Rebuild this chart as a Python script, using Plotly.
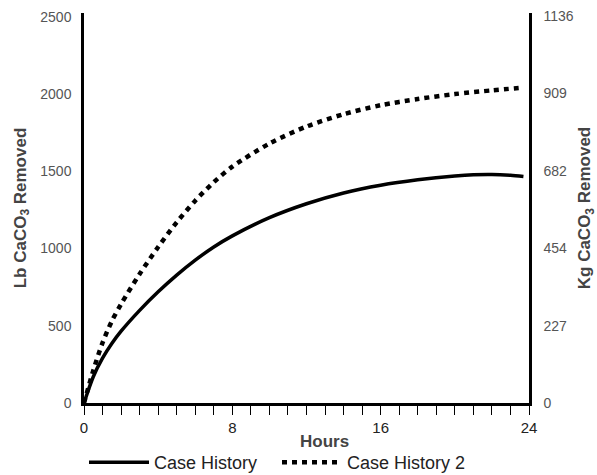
import plotly.graph_objects as go

LB_TO_KG = 0.45359

hours_1 = [0, 0.5, 1, 1.5, 2, 3, 4, 5, 6, 7, 8, 10, 12, 14, 16, 18, 20, 21, 22, 23, 23.7]
case_history_1 = [0, 170, 290, 385, 465, 600, 720, 828, 925, 1010, 1082, 1200, 1290, 1360, 1410,
                  1445, 1470, 1478, 1480, 1474, 1466]

hours_2 = [0, 0.5, 1, 1.5, 2, 3, 4, 5, 6, 7, 8, 10, 12, 14, 16, 18, 20, 22, 23.7]
case_history_2 = [0, 210, 390, 530, 640, 835, 1010, 1170, 1310, 1430, 1530, 1680, 1790, 1870,
                  1928, 1968, 2000, 2024, 2042]

lb_ticks = [0, 500, 1000, 1500, 2000, 2500]
kg_ticks = [0, 227, 454, 682, 909, 1136]
hour_ticks = [0, 8, 16, 24]

lb_max = 2525

fig = go.Figure()
fig.add_trace(go.Scatter(x=hours_1, y=case_history_1, mode="lines", name="Case History",
                         line=dict(color="black", width=3.5, shape="spline", smoothing=0.8)))
fig.add_trace(go.Scatter(x=hours_2, y=case_history_2, mode="lines", name="Case History 2",
                         line=dict(color="black", width=4.5, dash="5px,5px", shape="spline", smoothing=0.8)))
# invisible trace to anchor the kg axis
fig.add_trace(go.Scatter(x=[0], y=[0], yaxis="y2", mode="markers", showlegend=False,
                         marker=dict(opacity=0), hoverinfo="skip"))

FONT = "Liberation Sans, Arial"
tick_font_y = dict(family=FONT, size=14, color="#555555")
title_font = dict(family=FONT, size=17, color="#444444")

fig.update_layout(
    width=597, height=475,
    margin=dict(l=84, r=68, t=13, b=72),
    paper_bgcolor="white", plot_bgcolor="white",
    showlegend=True,
    legend=dict(orientation="h", xref="container", x=84 / 597, xanchor="left",
                yref="container", y=(475 - 444) / 475, yanchor="top",
                font=dict(family=FONT, size=18, color="#222222"),
                itemwidth=60, tracegroupgap=0, entrywidth=118),
    xaxis=dict(range=[0, 24], tickvals=list(range(0, 25)),
               ticktext=[str(h) if h in hour_ticks else "" for h in range(0, 25)],
               ticks="outside", ticklen=9, tickwidth=1, tickcolor="black", automargin=False,
               showline=True, linecolor="black", linewidth=2.5, showgrid=False, zeroline=False,
               tickfont=dict(family=FONT, size=15, color="#222222")),
    yaxis=dict(range=[0, lb_max], tickvals=lb_ticks, showline=True, linecolor="black", linewidth=2.5,
               showgrid=False, zeroline=False, ticks="", ticklabelstandoff=7, automargin=False,
               tickfont=tick_font_y,
               title=dict(text="<b>Lb CaCO<sub>3</sub> Removed</b>", font=title_font, standoff=10)),
    yaxis2=dict(range=[0, lb_max * LB_TO_KG], tickvals=kg_ticks, overlaying="y", side="right",
                anchor="x", showline=True, linecolor="black", linewidth=2.5, showgrid=False,
                zeroline=False, ticks="", ticklabelstandoff=9, tickfont=tick_font_y, automargin=False,
                title=dict(text="<b>Kg CaCO<sub>3</sub> Removed</b>", font=title_font, standoff=10)),
)
fig.add_annotation(text="<b>Hours</b>", x=(324 - 84) / (529 - 84), xref="paper",
                   y=(403 - 441) / 390, yref="paper", showarrow=False, xanchor="center", yanchor="middle",
                   font=dict(family=FONT, size=17, color="#444444"))

fig.write_html("out.html", config={"displayModeBar": False},
               post_script="document.body.style.margin='0';document.body.style.overflow='hidden';")
